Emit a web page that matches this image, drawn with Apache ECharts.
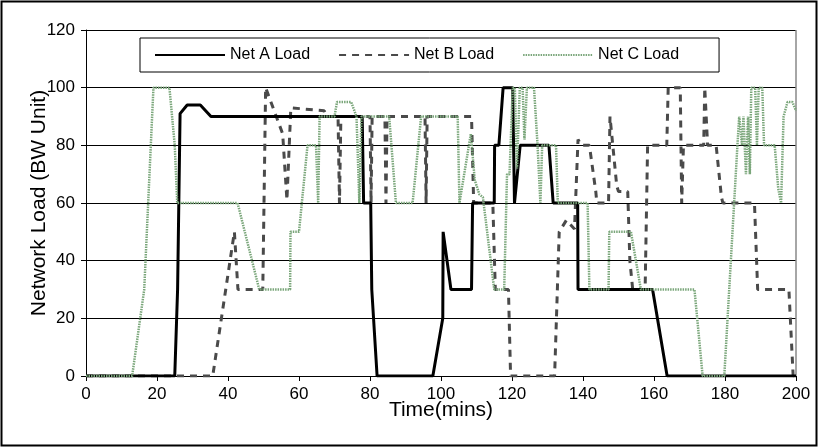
<!DOCTYPE html>
<html>
<head>
<meta charset="utf-8">
<script src="https://cdn.jsdelivr.net/npm/echarts@6/dist/echarts.min.js"></script>
<style>
html,body{margin:0;padding:0;background:#fff;}
#chart{width:818px;height:447px;}
</style>
</head>
<body>
<div id="chart"></div>
<script>
// Time (mins), load values
const seriesNames = ['Net A Load', 'Net B Load', 'Net C Load'];
const xTicks = [0, 20, 40, 60, 80, 100, 120, 140, 160, 180, 200];
const yTicks = [0, 20, 40, 60, 80, 100, 120];

const netA = [
  [0,0],[25,0],[25.8,30],[26.5,91],[28.5,94],[32.2,94],[35.2,90],[77.8,90],[78.2,60],[80.2,60],
  [80.5,30],[82,0],[97.7,0],[100.5,20],[100.6,50],[102.8,30],[108.6,30],[108.9,60],[115,60],
  [115.1,80],[116.3,80],[117.5,100],[120.2,100],[120.7,60],[122.3,80],[130.4,80],[131.6,60],
  [138.5,60],[138.6,30],[159.6,30],[163.7,0],[200,0]
];
const netB = [
  [0,0],[35.7,0],[41.8,50],[42.8,30],[49.8,30],[50.6,100],[51,100],[55.4,84],[56.6,61],[57.7,93],
  [67.1,92],[67.8,90],[71,90],[71.4,60],[71.8,90],[80,90],[80.3,60],[80.6,90],[84.2,90],[84.5,60],
  [84.8,90],[95.5,90],[95.8,60],[96.1,90],[108.6,90],[109.2,60],[114.6,60],[115.3,30],[119,30],
  [119.6,0],[132,0],[133.3,50],[135.3,54],[137.6,51],[138.6,82],[139.5,80],[141.8,80],[143.6,64],
  [143.9,60],[147.2,60],[147.6,90],[149.5,66],[150,64],[152.6,64],[153.2,40],[154,30],[157.5,30],
  [158.2,80],[163.6,80],[164,100],[167.4,100],[167.8,60],[168.3,80],[174,80],[174.3,100],[174.8,100],
  [175.1,80],[177.5,80],[179,62],[179.4,60],[188.3,60],[188.9,40],[189.2,30],[198,30],[199.2,0],[200,0]
];
const netC = [
  [0,0],[13,0],[16.4,30],[19,100],[23.5,100],[25,80],[25.7,60],[42.7,60],[48.8,30],[57.5,30],
  [57.6,50],[60,50],[62.4,80],[64.8,80],[65.4,60],[65.8,90],[70,90],[70.7,95],[74.7,95],[76.2,90],
  [77,60],[77.6,90],[85.4,90],[87.3,60],[92,60],[94.4,90],[104.7,90],[105.2,60],[108.4,84],
  [109.5,68],[110.8,63],[111.8,62],[115,30],[117.8,30],[118.6,70],[119.3,70],[120.2,100],[120.8,100],
  [121.4,72],[122.2,100],[123,100],[123.5,82],[124.2,100],[126.2,100],[127.2,80],[128,60],[128.5,80],
  [132.4,80],[132.9,60],[141.3,60],[141.8,30],[147.2,30],[147.4,50],[153.5,50],[156.3,30],[171.4,30],
  [173.7,0],[179.8,0],[183.5,80],[184,90],[184.8,80],[185.2,90],[185.9,70],[186.5,90],[187,70],
  [187.4,100],[188.5,100],[189,80],[189.5,100],[190.5,100],[191,80],[194,80],[195,65],[195.8,60],
  [196.5,90],[197.6,95],[199,95],[200,92]
];

const chart = echarts.init(document.getElementById('chart'));
const font = 'Liberation Sans, Arial, sans-serif';
const option = {
  animation: false,
  backgroundColor: '#fff',
  grid: {left: 86, right: 22, top: 30, bottom: 71, containLabel: false},
  legend: {
    left: 140, top: 38,
    data: seriesNames,
    borderColor: '#000', borderWidth: 1,
    padding: [9, 40, 9, 14],
    itemWidth: 70, itemHeight: 14, itemGap: 28,
    itemStyle: {opacity: 0},
    textStyle: {fontFamily: font, fontSize: 16, color: '#000'}
  },
  xAxis: {
    type: 'value', min: 0, max: 200, interval: 20,
    name: 'Time(mins)', nameLocation: 'middle', nameGap: 24, nameMoveOverlap: false,
    nameTextStyle: {fontFamily: font, fontSize: 21, color: '#000'},
    axisLine: {show: true, lineStyle: {color: '#000', width: 1}},
    axisTick: {show: true, inside: false, length: 5, lineStyle: {color: '#000'}},
    axisLabel: {fontFamily: font, fontSize: 17, color: '#000', margin: 10,
      formatter: v => xTicks.includes(v) ? String(v) : ''},
    splitLine: {show: false}
  },
  yAxis: {
    type: 'value', min: 0, max: 120, interval: 20,
    name: 'Network Load (BW Unit)', nameLocation: 'middle', nameGap: 36, nameMoveOverlap: false,
    nameTextStyle: {fontFamily: font, fontSize: 21, color: '#000'},
    axisLine: {show: true, lineStyle: {color: '#000', width: 1}},
    axisTick: {show: true, inside: false, length: 5, lineStyle: {color: '#000'}},
    axisLabel: {fontFamily: font, fontSize: 17, color: '#000', margin: 11,
      formatter: v => yTicks.includes(v) ? String(v) : ''},
    splitLine: {show: true, lineStyle: {color: '#000', width: 1}}
  },
  series: [
    {name: seriesNames[0], type: 'line', data: netA, symbol: 'none', z: 3,
      lineStyle: {color: '#000', width: 3, type: 'solid'}, itemStyle: {color: '#000'}},
    {name: seriesNames[1], type: 'line', data: netB, symbol: 'none', z: 2,
      lineStyle: {color: '#4a4a4a', width: 3, type: [7, 6]}, itemStyle: {color: '#4a4a4a'}},
    {name: seriesNames[2], type: 'line', data: netC, symbol: 'none', z: 4,
      lineStyle: {color: '#7aa67a', width: 2.5, type: [1.5, 1]}, itemStyle: {color: '#7aa67a'}}
  ]
};
chart.setOption(option);
// right border of plot area and outer frame
const tr = chart.convertToPixel({gridIndex: 0}, [200, 120]);
const br = chart.convertToPixel({gridIndex: 0}, [200, 0]);
chart.setOption({
  graphic: [
    {type: 'line', shape: {x1: tr[0], y1: tr[1], x2: br[0], y2: br[1]}, style: {stroke: '#888', lineWidth: 1.5}, z: 1},
    {type: 'rect', shape: {x: 1.5, y: 1.5, width: 815, height: 444}, style: {fill: 'none', stroke: '#000', lineWidth: 2}}
  ]
});
</script>
</body>
</html>
